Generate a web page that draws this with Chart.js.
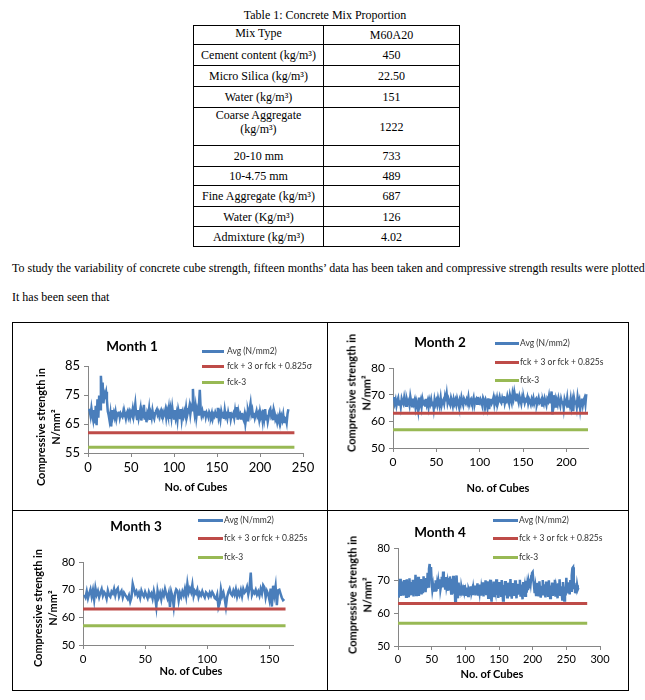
<!DOCTYPE html>
<html>
<head>
<meta charset="utf-8">
<script src="https://cdn.jsdelivr.net/npm/chart.js@4.4.1/dist/chart.umd.min.js"></script>
<style>
html,body{margin:0;padding:0;background:#fff;}
body{width:645px;height:700px;position:relative;overflow:hidden;font-family:"Liberation Serif","DejaVu Serif","Times New Roman",serif;color:#000;}
.abs{position:absolute;}
.doc{font-size:12px;line-height:14px;white-space:nowrap;}
table.mix{position:absolute;left:193px;top:25px;width:266px;border-collapse:collapse;table-layout:fixed;font-size:12px;line-height:14px;}
table.mix td{border:1px solid #000;padding:0;text-align:center;vertical-align:middle;}
.box{position:absolute;border:1px solid #000;}
.ttl{position:absolute;font-family:Lato,sans-serif;font-weight:bold;white-space:nowrap;transform:translate(-50%,-50%);}
.ytl{position:absolute;font-family:Lato,sans-serif;font-weight:bold;font-size:11px;line-height:14.5px;white-space:nowrap;text-align:center;transform:translate(-50%,-50%) rotate(-90deg);}
.leg{position:absolute;font-family:Lato,sans-serif;font-size:8.5px;color:#333;white-space:nowrap;display:flex;align-items:center;transform:translateY(-50%);}
.leg i{display:inline-block;height:3px;}
canvas{position:absolute;}
</style>
</head>
<body>
<div class="abs doc" style="left:0;width:650px;top:8px;text-align:center;">Table 1: Concrete Mix Proportion</div>
<table class="mix">
<colgroup><col style="width:130px"><col style="width:136px"></colgroup>
<tr style="height:19px"><td style="vertical-align:top">Mix Type</td><td>M60A20</td></tr>
<tr style="height:21px"><td>Cement content (kg/m³)</td><td>450</td></tr>
<tr style="height:21px"><td>Micro Silica (kg/m³)</td><td>22.50</td></tr>
<tr style="height:21px"><td>Water (kg/m³)</td><td>151</td></tr>
<tr style="height:38px"><td style="vertical-align:top">Coarse Aggregate<br>(kg/m³)</td><td>1222</td></tr>
<tr style="height:21px"><td>20-10 mm</td><td>733</td></tr>
<tr style="height:19px"><td>10-4.75 mm</td><td>489</td></tr>
<tr style="height:21px"><td>Fine Aggregate (kg/m³)</td><td>687</td></tr>
<tr style="height:20px"><td>Water (Kg/m³)</td><td>126</td></tr>
<tr style="height:20px"><td>Admixture (kg/m³)</td><td>4.02</td></tr>
</table>
<div class="abs doc" style="left:12px;top:261px;">To study the variability of concrete cube strength, fifteen months’ data has been taken and compressive strength results were plotted.</div>
<div class="abs doc" style="left:12px;top:290px;">It has been seen that</div>

<div class="box" style="left:12px;top:322px;width:615px;height:367px;"></div>
<div class="abs" style="left:327px;top:322px;width:1px;height:368px;background:#000;"></div>
<div class="abs" style="left:12px;top:510px;width:616px;height:1px;background:#000;"></div>

<canvas id="c1" width="313" height="185" style="left:13px;top:324px;"></canvas>
<canvas id="c2" width="299" height="185" style="left:328px;top:324px;"></canvas>
<canvas id="c3" width="313" height="178" style="left:13px;top:511px;"></canvas>
<canvas id="c4" width="299" height="178" style="left:328px;top:511px;"></canvas>

<div id="overlay"></div>

<script>
// ---------- DATA ----------
const legendAvg = 'Avg (N/mm2)';
const legendLower = 'fck-3';
const monthTitles = ['Month 1', 'Month 2', 'Month 3', 'Month 4'];
const upperLabels = ['fck + 3 or fck + 0.825σ', 'fck + 3 or fck + 0.825s', 'fck + 3 or fck + 0.825s', 'fck + 3 or fck + 0.825s'];
const xAxisTitle = 'No. of Cubes';
const yAxisTitle = ['Compressive strength in', 'N/mm²'];

const m1Avg = [
70.2,69.5,67.8,70.4,68.2,66.5,69.8,65.2,71.3,64.6,
73.5,67.2,74.8,70.1,81.6,76.4,79.3,72.1,75.8,74.9,
76.1,73.2,69.4,68.1,66.3,68.5,64.2,69.8,67.6,68.9,
67.4,69.1,66.8,68.4,67.9,69.3,67.2,68.6,68.0,67.5,
69.2,67.8,68.3,66.9,68.7,69.4,67.6,68.9,67.3,69.0,
68.2,70.1,67.7,69.5,71.9,68.4,66.7,69.8,67.1,68.6,
70.3,66.2,68.9,67.4,71.6,66.5,69.2,65.6,68.8,67.9,
70.2,66.4,68.5,67.1,69.6,67.8,66.9,68.7,69.4,70.0,
68.3,69.1,67.6,68.9,69.7,68.4,69.2,67.8,68.6,69.9,
67.3,69.5,68.1,70.3,66.8,69.7,67.4,70.6,68.2,66.9,
69.8,67.2,68.7,66.4,69.9,68.5,67.1,70.2,66.6,68.9,
67.7,69.4,68.2,70.5,67.5,68.8,69.6,71.2,68.4,70.8,
69.7,77.1,71.3,68.6,70.9,67.4,69.8,68.3,71.5,76.8,
70.2,68.1,69.4,67.9,68.8,69.6,67.5,68.9,68.2,67.3,
69.1,68.4,67.6,68.8,66.9,68.3,67.7,69.0,68.1,67.4,
70.6,67.2,68.5,66.6,69.3,67.9,68.4,66.8,69.7,67.5,
68.2,66.9,68.9,67.4,69.1,66.7,68.3,67.8,68.6,67.1,
69.5,67.3,70.8,66.5,69.2,67.7,68.4,66.9,68.8,67.2,
66.4,68.1,65.2,67.6,66.3,69.4,68.0,70.2,72.1,68.6,
69.8,67.4,68.9,67.1,68.3,69.5,67.8,68.6,66.7,69.2,
67.5,68.4,66.2,69.9,67.3,70.1,66.6,68.2,65.8,67.4,
69.6,70.2,67.9,68.7,66.3,70.0,68.8,66.5,67.2,65.6,
67.3,66.1,68.0,65.9,67.6,66.4,68.2,65.7,67.1,66.8,
65.4,68.5,70.1];
const m1RefX = [0, 240];
const m1Upper = [62, 62];
const m1Lower = [57, 57];

const m2Avg = [
69.2,66.8,68.1,65.9,67.6,68.7,66.3,67.9,65.6,68.4,
67.2,66.5,68.9,67.1,65.8,68.2,66.9,67.7,66.1,69.3,
67.4,65.7,68.6,66.8,68.0,65.3,67.5,66.2,64.1,68.9,
66.4,67.8,65.5,68.3,66.7,67.2,65.9,68.5,66.3,67.6,
65.4,67.9,66.6,68.2,66.0,67.4,64.8,68.1,66.5,67.7,
66.2,68.6,67.0,66.4,68.8,65.9,67.3,68.0,66.6,69.2,
67.5,70.1,66.9,68.3,67.1,66.2,68.7,67.4,65.8,68.2,
66.7,67.9,66.3,68.5,67.2,65.7,67.8,66.5,68.9,67.3,
66.1,68.4,67.6,66.8,68.1,67.0,69.0,66.4,67.7,68.3,
66.9,67.5,68.8,66.2,67.9,68.4,66.6,69.1,67.3,66.8,
68.2,67.4,66.0,68.7,67.8,66.5,68.1,67.2,65.3,68.6,
64.6,67.9,68.5,66.8,67.6,69.0,66.4,68.3,67.1,68.8,
66.7,67.9,69.2,67.5,66.9,68.6,67.3,69.4,66.8,68.2,
67.6,69.5,68.1,66.7,69.8,68.4,67.2,70.3,68.6,71.0,
69.2,67.9,70.4,68.5,67.1,69.3,68.0,66.6,68.8,67.4,
68.5,66.9,68.1,67.7,69.0,66.8,68.3,67.5,66.4,68.2,
67.0,68.6,66.7,67.9,68.4,66.3,67.6,68.8,66.9,67.4,
68.1,65.9,67.8,66.6,68.5,67.2,66.0,68.3,67.5,69.4,
66.8,68.9,71.2,62.6,69.8,66.5,68.1,65.2,67.7,66.4,
68.6,67.1,65.8,68.3,66.9,67.6,64.9,68.2,67.0,66.3,
68.7,65.6,67.9,66.2,68.4,65.4,67.3,63.8,68.5,66.7,
67.8,65.5,69.1,66.9,68.0,64.6,67.4,68.6,66.1,67.9,
68.8,66.5,70.2];
const m2RefX = [0, 225];
const m2Upper = [63, 63];
const m2Lower = [56.8, 56.8];

const m3Avg = [
68.1,67.2,69.4,66.9,68.6,70.1,67.5,69.8,66.4,70.6,
68.2,69.5,67.3,68.9,70.2,67.8,69.1,68.4,66.8,69.7,
68.0,67.4,69.3,68.6,70.3,67.9,69.8,70.5,67.5,68.8,
69.6,67.2,68.9,68.1,67.4,66.6,67.9,65.7,67.2,72.1,
70.3,68.5,69.4,67.8,68.9,67.1,69.6,68.3,67.5,69.2,
68.0,66.9,69.1,67.7,68.6,66.8,69.5,67.4,63.9,69.6,
67.3,68.8,66.5,69.1,67.8,70.2,68.4,66.9,68.7,63.8,
69.2,67.5,63.9,68.6,70.1,69.5,66.1,68.8,67.4,69.3,
68.0,70.2,67.6,72.1,68.9,70.4,69.1,71.8,67.7,69.5,
68.6,70.0,67.3,68.8,67.9,69.4,68.1,67.2,69.0,68.5,
67.4,68.9,67.8,69.1,68.3,67.0,66.6,68.2,63.7,65.2,
70.1,67.6,68.9,66.8,63.8,67.4,69.2,70.3,68.5,67.9,
69.6,68.2,70.1,67.5,69.3,68.0,69.8,67.6,70.2,68.9,
69.5,71.0,68.3,70.6,76.2,68.1,69.4,68.7,69.9,68.2,
69.3,67.8,70.2,68.6,71.6,70.8,67.2,69.5,68.4,66.3,
70.4,63.9,71.4,68.1,71.2,64.4,69.8,70.0,68.5,67.1,
66.2,66.6];
const m3RefX = [0, 163];
const m3Upper = [63, 63];
const m3Lower = [57, 57];

const m4Avg = [
64.8,67.2,70.6,65.3,69.8,66.1,68.9,65.4,70.2,66.7,
68.5,65.1,70.4,66.3,69.1,64.9,70.7,67.2,65.5,69.6,
66.0,70.3,65.2,68.7,66.4,71.8,65.6,69.4,66.8,71.2,
65.3,69.9,67.1,70.5,65.8,68.6,66.2,71.3,67.4,69.1,
66.5,70.8,67.7,72.4,68.2,73.6,75.1,70.4,74.2,69.3,
67.1,68.5,66.6,69.2,67.0,70.1,66.8,68.9,67.5,69.7,
68.1,70.4,67.3,68.6,71.2,67.9,72.8,68.4,70.2,67.6,
71.1,68.3,69.5,66.9,70.8,67.4,71.3,68.8,66.1,70.6,
67.2,71.5,66.0,69.3,63.5,68.2,71.6,66.7,64.6,69.4,
66.3,67.8,65.4,68.1,66.9,67.5,65.8,68.6,66.4,67.2,
65.7,67.9,66.6,65.3,67.4,66.8,65.9,68.3,66.2,67.1,
65.6,67.7,66.4,68.5,65.5,67.3,66.9,69.2,65.8,67.6,
66.3,68.8,65.4,67.9,66.7,69.5,65.2,68.1,66.5,70.1,
65.9,67.4,69.8,64.8,68.6,66.2,70.3,65.1,63.6,68.4,
66.8,69.7,65.3,68.2,66.9,70.4,65.6,68.9,64.7,69.6,
66.1,68.3,65.4,70.2,66.6,63.9,68.7,66.3,69.9,65.5,
67.8,64.9,69.4,66.4,68.1,65.2,70.5,66.7,64.5,69.3,
66.0,68.6,65.3,70.1,66.8,64.6,69.0,65.7,68.4,66.2,
70.3,65.1,68.8,66.5,64.3,69.6,66.9,68.2,65.4,70.0,
66.3,68.7,67.1,69.4,68.0,70.6,69.2,71.4,72.3,72.6,
70.1,68.5,66.2,67.9,65.6,69.3,66.4,68.1,65.2,69.8,
66.7,64.8,68.4,66.1,70.2,65.5,68.9,66.6,64.9,69.7,
66.3,68.2,65.4,70.1,66.8,64.7,68.5,66.0,69.4,65.3,
68.7,66.5,70.3,65.1,68.0,66.9,64.6,69.2,66.2,70.4,
65.7,68.3,66.4,64.2,69.6,66.8,63.9,68.1,65.5,70.9,
67.2,69.5,66.1,68.7,65.8,70.2,66.9,71.6,73.8,74.1,
67.4,69.3,66.5,68.2,66.1,68.6,67.3,67.8];
const m4RefX = [0, 281];
const m4Upper = [63, 63];
const m4Lower = [57, 57];

const m1YTicks = [55, 85, 10];
const m2YTicks = [50, 80, 10];
const m3YTicks = [50, 80, 10];
const m4YTicks = [50, 80, 10];
const xMaxes = [250, 225, 169, 300];

// ---------- STYLE / LAYOUT ----------
const BLUE = '#4A7EBB', RED = '#BE4B48', GREEN = '#98B954', AX = '#868686';

const charts = [
  {id:'c1', avg:m1Avg, refX:m1RefX, up:m1Upper, lo:m1Lower, yt:m1YTicks, xMax:xMaxes[0], fs:13,
   pad:{left:0, right:23, top:42, bottom:26}, yW:75,
   title:[132,346,13.5], legX:202, legLine:22, legGap:3, legY:[351,366,382], xT:[196,486], yT:[47.5,427]},
  {id:'c2', avg:m2Avg, refX:m2RefX, up:m2Upper, lo:m2Lower, yt:m2YTicks, xMax:xMaxes[1], fs:12,
   pad:{left:0, right:39, top:44, bottom:31}, yW:65,
   title:[440,342,13.5], legX:495, legLine:24, legGap:1, legY:[343,362,380], xT:[498,487], yT:[358.5,393]},
  {id:'c3', avg:m3Avg, refX:m3RefX, up:m3Upper, lo:m3Lower, yt:m3YTicks, xMax:xMaxes[2], fs:11.5,
   pad:{left:0, right:33, top:51, bottom:14}, yW:70,
   title:[136,526,13.5], legX:198, legLine:25, legGap:1, legY:[520,538,557], xT:[191,670], yT:[45,608]},
  {id:'c4', avg:m4Avg, refX:m4RefX, up:m4Upper, lo:m4Lower, yt:m4YTicks, xMax:xMaxes[3], fs:11,
   pad:{left:0, right:27, top:37, bottom:13}, yW:70,
   title:[440,532,13.5], legX:493, legLine:25, legGap:1, legY:[520,538,557], xT:[492,673], yT:[360,595]}
];

const overlay = document.getElementById('overlay');
function addEl(cls, html, css){
  const d = document.createElement('div');
  d.className = cls; d.innerHTML = html; d.style.cssText = css;
  overlay.appendChild(d); return d;
}

charts.forEach((o, k) => {
  new Chart(document.getElementById(o.id), {
    type: 'line',
    data: { datasets: [
      { label: legendAvg, data: o.avg.map((v,i)=>({x:i+1, y:v})), borderColor: BLUE, borderWidth: 2.5,
        pointRadius: 0, tension: 0, fill: false, order: 3 },
      { label: upperLabels[k], data: o.refX.map((x,i)=>({x:x, y:o.up[i]})), borderColor: RED, borderWidth: 3,
        pointRadius: 0, fill: false, order: 1 },
      { label: legendLower, data: o.refX.map((x,i)=>({x:x, y:o.lo[i]})), borderColor: GREEN, borderWidth: 3,
        pointRadius: 0, fill: false, order: 2 }
    ]},
    options: {
      responsive: false, animation: false, devicePixelRatio: 1,
      layout: { padding: o.pad },
      plugins: { legend: { display: false }, tooltip: { enabled: false }, title: { display: false } },
      scales: {
        x: { type: 'linear', min: 0, max: o.xMax,
             ticks: { stepSize: 50, includeBounds: false, color: '#000', font: { family: 'Lato', size: o.fs }, padding: 3, maxRotation: 0, autoSkip: false },
             grid: { display: true, drawOnChartArea: false, drawTicks: true, tickLength: 4, color: AX },
             border: { display: true, color: AX, width: 1 },
             afterFit: s => { s.height = 30; } },
        y: { type: 'linear', min: o.yt[0], max: o.yt[1],
             ticks: { stepSize: o.yt[2], color: '#000', font: { family: 'Lato', size: o.fs }, padding: 4 },
             grid: { display: true, drawOnChartArea: false, drawTicks: true, tickLength: 4, color: AX },
             border: { display: true, color: AX, width: 1 },
             afterFit: s => { s.width = o.yW; } }
      }
    }
  });

  addEl('ttl', monthTitles[k], `left:${o.title[0]}px;top:${o.title[1]}px;font-size:${o.title[2]}px;`);
  const legs = [[legendAvg, BLUE], [upperLabels[k], RED], [legendLower, GREEN]];
  legs.forEach((L, j) => {
    addEl('leg', `<i style="width:${o.legLine}px;background:${L[1]};margin-right:${o.legGap}px"></i>${L[0]}`,
          `left:${o.legX}px;top:${o.legY[j]}px;`);
  });
  addEl('ttl', xAxisTitle, `left:${o.xT[0]}px;top:${o.xT[1]}px;font-size:11px;`);
  addEl('ytl', yAxisTitle.join('<br>'), `left:${o.yT[0]}px;top:${o.yT[1]}px;`);
});
</script>
</body>
</html>
